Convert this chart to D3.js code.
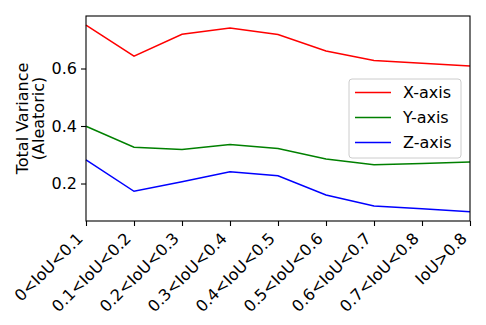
<!DOCTYPE html>
<html>
<head>
<meta charset="utf-8">
<script src="https://cdn.jsdelivr.net/npm/d3@7"></script>
<style>
  body { margin: 0; background: #fff; }
  text { font-family: "DejaVu Sans", sans-serif; fill: #000; }
</style>
</head>
<body>
<script>
// categories along x
var categories = ["0<IoU<0.1", "0.1<IoU<0.2", "0.2<IoU<0.3", "0.3<IoU<0.4", "0.4<IoU<0.5",
                  "0.5<IoU<0.6", "0.6<IoU<0.7", "0.7<IoU<0.8", "IoU>0.8"];
var xAxisVals = [0.751, 0.643, 0.719, 0.741, 0.718, 0.661, 0.628, 0.618, 0.609];
var yAxisVals = [0.399, 0.326, 0.318, 0.336, 0.322, 0.285, 0.265, 0.270, 0.275];
var zAxisVals = [0.282, 0.173, 0.206, 0.241, 0.227, 0.160, 0.122, 0.112, 0.102];
var seriesNames = ["X-axis", "Y-axis", "Z-axis"];
var seriesColors = ["red", "green", "blue"];
var yTicks = [0.2, 0.4, 0.6];

var W = 486, H = 325;
var margin = {top: 16, left: 86, right: 16, bottom: 104};
var w = W - margin.left - margin.right,
    h = H - margin.top - margin.bottom;
var fs = 16;

var svg = d3.select("body").append("svg")
    .attr("width", W).attr("height", H);

var g = svg.append("g").attr("transform", "translate(" + margin.left + "," + margin.top + ")");

var x = d3.scalePoint().domain(categories).range([0, w]);
var y = d3.scaleLinear().domain([0.0696, 0.7826]).range([h, 0]);

var series = [xAxisVals, yAxisVals, zAxisVals];

var line = d3.line()
    .x(function(d, i) { return x(categories[i]); })
    .y(function(d) { return y(d); });

g.selectAll(".series")
  .data(series)
  .enter().append("path")
    .attr("class", "series")
    .attr("fill", "none")
    .attr("stroke", function(d, i) { return seriesColors[i]; })
    .attr("stroke-width", 1.5)
    .attr("d", line);

// axes
var xAxis = g.append("g")
    .attr("transform", "translate(0," + h + ")")
    .call(d3.axisBottom(x).tickSize(5).tickSizeOuter(0));
xAxis.select(".domain").remove();
xAxis.selectAll("line").attr("stroke", "#000").attr("stroke-width", 1.1);
// rotated labels, end of text tucked under the tick
xAxis.selectAll("text")
    .attr("font-size", fs)
    .attr("font-family", "DejaVu Sans")
    .style("text-anchor", "end")
    .attr("x", 0).attr("y", 0).attr("dy", 0)
    .attr("transform", "translate(-2.5,18.5) rotate(-45)");

var yAxis = g.append("g")
    .call(d3.axisLeft(y).tickValues(yTicks).tickFormat(d3.format(".1f")).tickSize(5).tickPadding(4));
yAxis.select(".domain").remove();
yAxis.selectAll("line").attr("stroke", "#000").attr("stroke-width", 1.1);
yAxis.selectAll("text").attr("font-size", fs).attr("font-family", "DejaVu Sans");

// frame
g.append("rect")
    .attr("width", w).attr("height", h)
    .attr("fill", "none").attr("stroke", "#000").attr("stroke-width", 1.1);

// y label
var ylab = svg.append("text")
    .attr("transform", "translate(28," + (margin.top + h / 2) + ") rotate(-90)")
    .attr("text-anchor", "middle")
    .attr("font-size", fs);
ylab.append("tspan").attr("x", 0).attr("dy", 0).text("Total Variance");
ylab.append("tspan").attr("x", 0).attr("dy", "1.0em").text("(Aleatoric)");

// legend
var lg = svg.append("g").attr("transform", "translate(349,79)");
lg.append("rect")
    .attr("width", 112).attr("height", 79).attr("rx", 3)
    .attr("fill", "#fff").attr("fill-opacity", 0.8)
    .attr("stroke", "#ccc").attr("stroke-width", 1);
seriesNames.forEach(function(name, i) {
  var yy = 13.5 + i * 25;
  lg.append("line")
      .attr("x1", 6).attr("x2", 42).attr("y1", yy).attr("y2", yy)
      .attr("stroke", seriesColors[i]).attr("stroke-width", 1.5);
  lg.append("text")
      .attr("x", 54).attr("y", yy).attr("dy", "0.36em")
      .attr("font-size", fs).text(name);
});
</script>
</body>
</html>
